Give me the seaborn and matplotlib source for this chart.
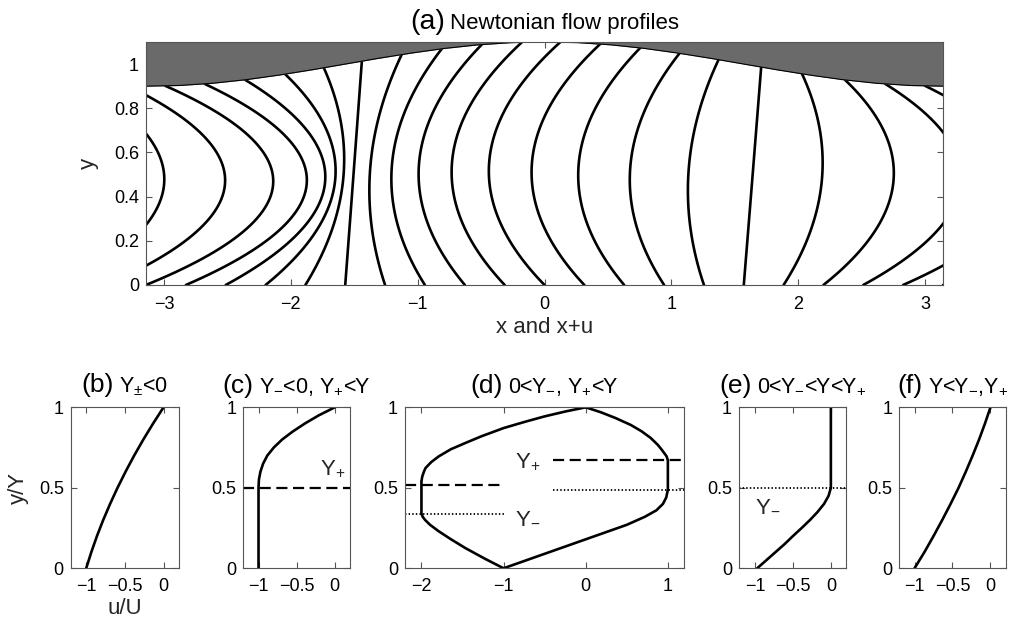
import numpy as np
import pandas as pd
import matplotlib
matplotlib.use("Agg")
import matplotlib.pyplot as plt
import seaborn as sns
from matplotlib.offsetbox import TextArea, HPacker, AnchoredOffsetbox
from matplotlib.ticker import FixedLocator, FixedFormatter

# ---------------- data ----------------
# (a) upper wall height
wall_x = [-3.142, -2.880, -2.618, -2.356, -2.094, -1.833, -1.571, -1.309, -1.047, -0.785,
          -0.524, -0.262, 0.000, 0.262, 0.524, 0.785, 1.047, 1.309, 1.571, 1.833,
          2.094, 2.356, 2.618, 2.880, 3.142]
wall_h = [0.900, 0.903, 0.913, 0.929, 0.950, 0.974, 1.000, 1.026, 1.050, 1.071,
          1.087, 1.097, 1.100, 1.097, 1.087, 1.071, 1.050, 1.026, 1.000, 0.974,
          0.950, 0.929, 0.913, 0.903, 0.900]

# (a) flow profiles: x at the bottom, at mid-height and at the wall
curve_bottom_x = [-3.770, -3.456, -3.142, -2.827, -2.513, -2.199, -1.885, -1.571, -1.257, -0.943,
                  -0.628, -0.314, 0.000, 0.314, 0.628, 0.943, 1.257, 1.571, 1.885, 2.199,
                  2.513, 2.827, 3.142]
curve_mid_x = [-3.00, -2.52, -2.14, -1.875, -1.73, -1.65, -1.585, -1.505, -1.375, -1.204,
               -0.99, -0.73, -0.437, -0.10, 0.268, 0.675, 1.135, 1.64, 2.187, 2.75,
               3.28, 3.76, 4.14]
curve_top_x = [-3.597, -3.28, -2.99, -2.68, -2.36, -2.045, -1.74, -1.44, -1.126, -0.81,
               -0.495, -0.18, 0.123, 0.438, 0.754, 1.064, 1.372, 1.708, 2.03, 2.37,
               2.686, 3.00, 3.29]

# (b)
b_y = [0, 0.1, 0.2, 0.3, 0.4, 0.5, 0.6, 0.7, 0.8, 0.9, 1.0]
b_u = [-1.0, -0.934, -0.861, -0.780, -0.691, -0.595, -0.491, -0.380, -0.261, -0.134, 0.0]
# (c)
c_y = [0, 0.5, 0.55, 0.6, 0.65, 0.7, 0.75, 0.8, 0.85, 0.9, 0.95, 1.0]
c_u = [-1.0, -1.0, -0.995, -0.975, -0.94, -0.885, -0.80, -0.69, -0.55, -0.39, -0.21, 0.0]
c_yplus = 0.5
# (d)
d_left_y = [0, 0.06, 0.126, 0.18, 0.23, 0.27, 0.30, 0.32, 0.34, 0.54, 0.57, 0.60, 0.623,
            0.66, 0.695, 0.74, 0.778, 0.82, 0.871, 0.91, 0.944, 0.975, 1.0]
d_left_u = [-1.0, -1.23, -1.467, -1.64, -1.79, -1.895, -1.955, -1.985, -2.0, -2.0, -1.99, -1.97, -1.95,
            -1.88, -1.79, -1.64, -1.467, -1.27, -1.0, -0.74, -0.498, -0.24, 0.0]
d_right_y = [0, 0.09, 0.18, 0.27, 0.32, 0.36, 0.40, 0.44, 0.488, 0.67, 0.695, 0.716, 0.74,
             0.768, 0.81, 0.851, 0.89, 0.934, 0.97, 1.0]
d_right_u = [-1.0, -0.5, 0.0, 0.50, 0.72, 0.86, 0.94, 0.98, 1.0, 1.0, 0.985, 0.955, 0.92,
             0.875, 0.79, 0.68, 0.55, 0.36, 0.18, 0.0]
d_yplus = [0.52, 0.675]
d_yminus = [0.337, 0.488]
# (e)
e_y = [0, 0.05, 0.1, 0.15, 0.2, 0.25, 0.3, 0.35, 0.4, 0.45, 0.5, 1.0]
e_u = [-0.97, -0.85, -0.73, -0.61, -0.50, -0.385, -0.275, -0.175, -0.09, -0.03, 0.0, 0.0]
e_yminus = 0.5
# (f)
f_y = [0, 0.1, 0.2, 0.3, 0.4, 0.5, 0.6, 0.7, 0.8, 0.9, 1.0]
f_u = [-1.0, -0.87, -0.75, -0.635, -0.525, -0.42, -0.325, -0.235, -0.15, -0.072, 0.0]

# ---------------- style ----------------
sns.set_theme(style="ticks")
plt.rcParams["font.family"] = ["Liberation Sans", "DejaVu Sans"]
plt.rcParams["mathtext.fontset"] = "custom"
plt.rcParams["mathtext.rm"] = "Liberation Sans"
plt.rcParams["mathtext.it"] = "Liberation Sans:italic"
plt.rcParams["mathtext.bf"] = "Liberation Sans:bold"
plt.rcParams["axes.unicode_minus"] = True

SPINE = "#555555"
LW = 1.9
DASH = (0, (5, 2.5))
DOT = (0, (0.8, 1.2))


def style_axes(ax, xpad=7, ypad=4):
    ax.tick_params(direction="in", top=True, right=True, length=4, width=0.8,
                   color=SPINE, labelsize=13, labelcolor="black")
    ax.tick_params(axis="x", pad=xpad)
    ax.tick_params(axis="y", pad=ypad)
    for sp in ax.spines.values():
        sp.set_color(SPINE)
        sp.set_linewidth(0.8)
        sp.set_zorder(5)
    ax.grid(False)


def set_ticks(ax, axis, vals, labels):
    a = ax.xaxis if axis == "x" else ax.yaxis
    a.set_major_locator(FixedLocator(vals))
    a.set_major_formatter(FixedFormatter(labels))


def title(ax, tag, rest, yoff, tagsize=19, restsize=15.5):
    ta = TextArea(tag, textprops=dict(fontsize=tagsize, color="black"))
    tb = TextArea(rest, textprops=dict(fontsize=restsize, color="black"))
    box = HPacker(children=[ta, tb], align="baseline", pad=0, sep=4)
    ab = AnchoredOffsetbox(loc="lower center", child=box, pad=0, borderpad=0,
                           frameon=False, bbox_to_anchor=(0.5, 1.0 + yoff),
                           bbox_transform=ax.transAxes)
    ax.add_artist(ab)


fig = plt.figure(figsize=(10.09, 6.21), dpi=100)

# ---------------- (a) ----------------
ax = fig.add_axes([0.1447, 0.5411, 0.7899, 0.3913])
rows = []
s = np.linspace(0, 1, 61)
for k, (xb, xm, xt) in enumerate(zip(curve_bottom_x, curve_mid_x, curve_top_x)):
    ytop = np.interp(xt, wall_x, wall_h)
    X = xb + (xt - xb) * s + 4 * (xm - 0.5 * (xb + xt)) * s * (1 - s)
    Y = s * ytop
    rows.append(pd.DataFrame({"X": X, "Y": Y, "curve": k}))
prof = pd.concat(rows, ignore_index=True)
sns.lineplot(data=prof, x="X", y="Y", units="curve", estimator=None, sort=False,
             color="black", lw=LW, ax=ax, legend=False)
ax.fill_between(wall_x, wall_h, 1.1, color="#6a6a6a", lw=0, zorder=3)
ax.plot(wall_x, wall_h, color="black", lw=0.8, zorder=4)
ax.set_xlim(-np.pi, np.pi)
ax.set_ylim(0, 1.1)
set_ticks(ax, "x", [-3, -2, -1, 0, 1, 2, 3], ["\u22123", "\u22122", "\u22121", "0", "1", "2", "3"])
set_ticks(ax, "y", [0, 0.2, 0.4, 0.6, 0.8, 1.0], ["0", "0.2", "0.4", "0.6", "0.8", "1"])
style_axes(ax, xpad=8, ypad=5)
ax.set_xlabel("x and x+u", fontsize=16, labelpad=3)
ax.set_ylabel("y", fontsize=16, labelpad=11)
title(ax, "(a)", "Newtonian flow profiles", 0.03, tagsize=20.5, restsize=16)

# ---------------- bottom panels ----------------
bottom, height = 0.0849, 0.2592
rect_b = [0.0701, bottom, 0.1073, height]
rect_c = [0.2411, bottom, 0.1058, height]
rect_d = [0.4014, bottom, 0.2768, height]
rect_e = [0.7324, bottom, 0.1061, height]
rect_f = [0.8913, bottom, 0.1054, height]

small_xt = [-1, -0.5, 0]
small_xl = ["\u22121", "\u22120.5", "0"]
yt = [0, 0.5, 1]
yl = ["0", "0.5", "1"]


def small(rect, u, y, xlim, xt, xl):
    a = fig.add_axes(rect)
    sns.lineplot(x=u, y=y, sort=False, estimator=None, color="black", lw=LW, ax=a)
    a.set_xlim(*xlim)
    a.set_ylim(0, 1)
    set_ticks(a, "x", xt, xl)
    set_ticks(a, "y", yt, yl)
    style_axes(a, xpad=7, ypad=5)
    a.set_xlabel("")
    a.set_ylabel("")
    return a


ab_ = small(rect_b, b_u, b_y, (-1.2, 0.2), small_xt, small_xl)
ab_.set_xlabel("u/U", fontsize=16, labelpad=2)
ab_.set_ylabel("y/Y", fontsize=16, labelpad=7)
title(ab_, "(b)", "Y$_{\\pm}$<0", 0.06)

ac = small(rect_c, c_u, c_y, (-1.2, 0.2), small_xt, small_xl)
ac.axhline(c_yplus, color="black", lw=1.6, ls=DASH)
ac.text(-0.2, 0.585, "Y$_{+}$", fontsize=16, ha="left", va="baseline")
title(ac, "(c)", "Y$_{-}$<0, Y$_{+}$<Y", 0.06)

ad = fig.add_axes(rect_d)
sns.lineplot(x=d_left_u, y=d_left_y, sort=False, estimator=None, color="black", lw=LW, ax=ad)
sns.lineplot(x=d_right_u, y=d_right_y, sort=False, estimator=None, color="black", lw=LW, ax=ad)
ad.set_xlim(-2.2, 1.2)
ad.set_ylim(0, 1)
ad.plot([-2.2, -1.02], [d_yplus[0]] * 2, color="black", lw=1.6, ls=DASH)
ad.plot([-2.2, -1.0], [d_yminus[0]] * 2, color="black", lw=1.3, ls=DOT)
ad.plot([-0.4, 1.2], [d_yplus[1]] * 2, color="black", lw=1.6, ls=DASH)
ad.plot([-0.4, 1.2], [d_yminus[1]] * 2, color="black", lw=1.3, ls=DOT)
ad.text(-0.86, 0.625, "Y$_{+}$", fontsize=16, ha="left", va="baseline")
ad.text(-0.86, 0.283, "Y$_{-}$", fontsize=16, ha="left", va="baseline")
set_ticks(ad, "x", [-2, -1, 0, 1], ["\u22122", "\u22121", "0", "1"])
set_ticks(ad, "y", yt, yl)
style_axes(ad, xpad=7, ypad=5)
ad.set_xlabel("")
ad.set_ylabel("")
title(ad, "(d)", "0<Y$_{-}$, Y$_{+}$<Y", 0.06)

ae = small(rect_e, e_u, e_y, (-1.21, 0.2), small_xt, small_xl)
ae.axhline(e_yminus, color="black", lw=1.3, ls=DOT)
ae.text(-1.0, 0.355, "Y$_{-}$", fontsize=16, ha="left", va="baseline")
title(ae, "(e)", "0<Y$_{-}$<Y<Y$_{+}$", 0.06)

af = small(rect_f, f_u, f_y, (-1.2, 0.2), small_xt, small_xl)
title(af, "(f)", "Y<Y$_{-}$,Y$_{+}$", 0.06)

fig.savefig("out.png", dpi=100)
